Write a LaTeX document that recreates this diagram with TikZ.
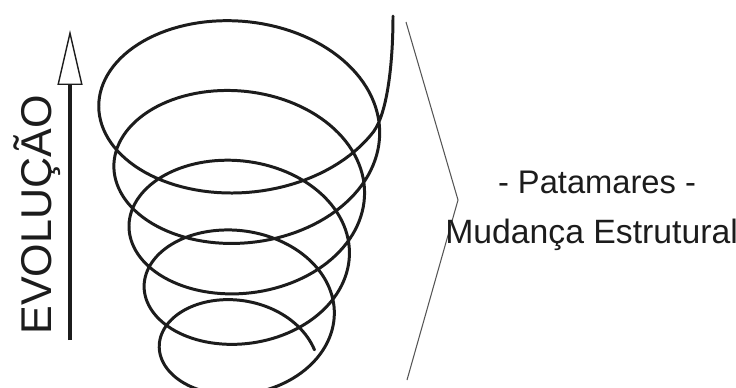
\documentclass[tikz,border=0pt]{standalone}
\usepackage{fontspec}
\setmainfont{Liberation Sans}
\usepackage{tikz}
\usetikzlibrary{arrows.meta,positioning}
\definecolor{SpiralInk}{RGB}{28,28,28}
\definecolor{BraceGray}{RGB}{85,85,85}

\begin{document}
\begin{tikzpicture}[x=0.02cm,y=-0.02cm,
  spiral/.style={draw=SpiralInk,line width=1.7pt,line join=round,line cap=round},
  evoarrow/.style={draw=SpiralInk,line width=2.6pt,
                   -{Triangle[open,length=1.1cm,width=0.5cm,line width=0.8pt]}},
  bracket/.style={draw=BraceGray,line width=0.6pt},
  lbl/.style={font=\fontsize{18.6}{22}\selectfont,text=SpiralInk,inner sep=0pt},
]
\useasboundingbox (0,0) rectangle (736,387);

\node[lbl,rotate=90,anchor=base,font=\fontsize{24.5}{28}\selectfont] (evo) at (51,215) {EVOLUÇÃO};
\coordinate (evbot) at (70,340);
\coordinate (evtop) at (70,30);
\draw[evoarrow] (evbot) -- (evtop);

\draw[spiral] (393,16) .. controls (393,60) and (388,112) .. (373.4,131.9)
  -- plot[domain=30:1778,samples=600,variable=\t]
  ({243+(151.8-0.042*\t)*cos(\t)},{74.5+0.167*\t+(105.6-0.027*\t)*sin(\t)});

\coordinate (brtop) at (406,22);
\coordinate (brtip) at (458,200);
\coordinate (brbot) at (407,380);
\draw[bracket] (brtop) -- (brtip) -- (brbot);

\node[lbl,anchor=base] (pat) at (597,193) {- Patamares -};
\node[lbl,anchor=base west,font=\fontsize{19.2}{22}\selectfont] (mud) at (445,243) {Mudança Estrutural};
\end{tikzpicture}
\end{document}
